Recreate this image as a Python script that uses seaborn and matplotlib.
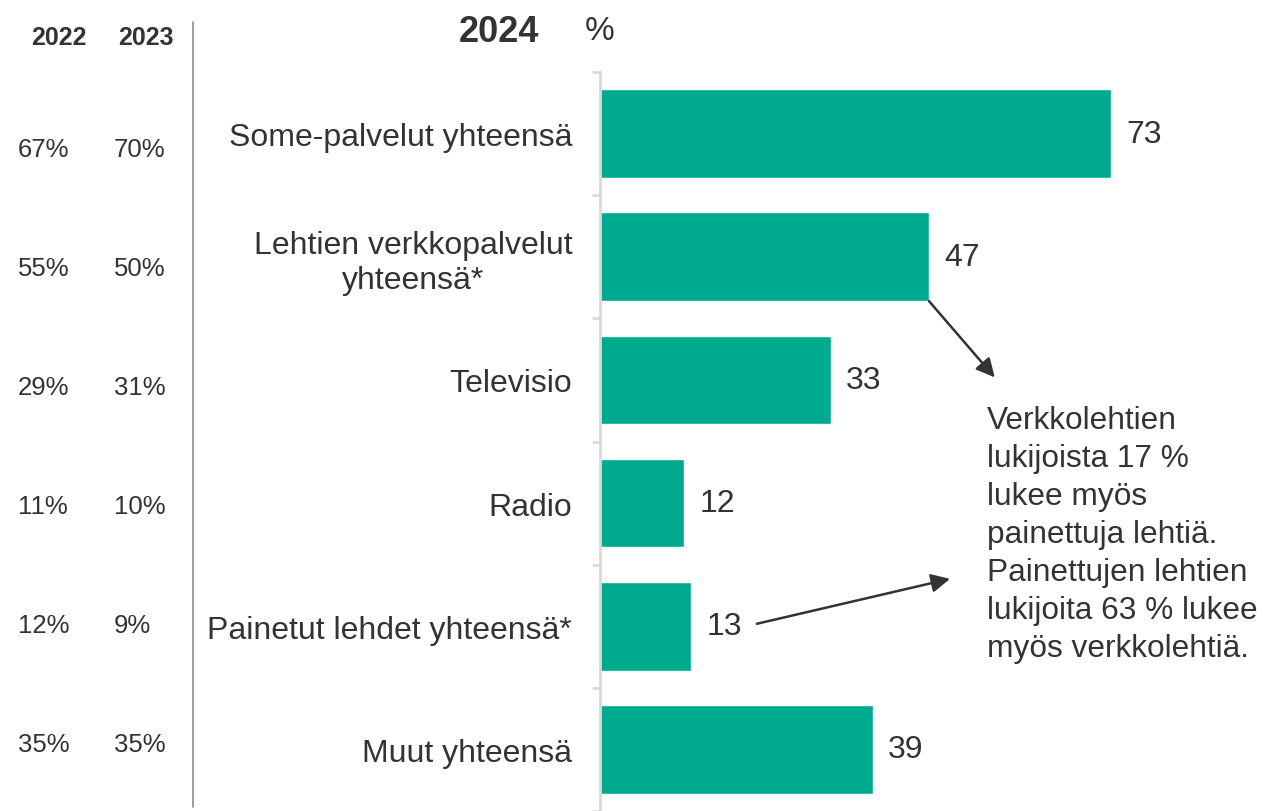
import matplotlib
matplotlib.use("Agg")
import matplotlib.pyplot as plt
import seaborn as sns
import pandas as pd

# ── Data ─────────────────────────────────────────────────────────────────────
categories = ["Some-palvelut yhteensä", "Lehtien verkkopalvelut\nyhteensä*", "Televisio",
              "Radio", "Painetut lehdet yhteensä*", "Muut yhteensä"]
values_2024 = [73, 47, 33, 12, 13, 39]
values_2022 = [67, 55, 29, 11, 12, 35]
values_2023 = [70, 50, 31, 10, 9, 35]
note_text = ("Verkkolehtien\nlukijoista 17 %\nlukee myös\npainettuja lehtiä.\n"
             "Painettujen lehtien\nlukijoita 63 % lukee\nmyös verkkolehtiä.")

# ── Style ────────────────────────────────────────────────────────────────────
sns.set_theme(style="white")
plt.rcParams["font.family"] = ["Liberation Sans", "DejaVu Sans"]
TXT = "#333333"
BAR = "#00AA8E"
GRID = "#d9d9d9"

W, H = 1263, 812
fig = plt.figure(figsize=(W / 100, H / 100), dpi=100)

# main axes: left edge x=600, top y=73, bottom at figure bottom
ax = fig.add_axes([600 / W, 0, 658 / W, (H - 73) / H])
df = pd.DataFrame({"cat": categories, "val": values_2024})
sns.barplot(data=df, x="val", y="cat", orient="h", color=BAR, width=0.72,
            saturation=1, ax=ax)
ax.set_xlim(0, 94)
ax.set_ylim(len(categories) - 0.5, -0.5)
ax.set_xlabel("")
ax.set_ylabel("")
ax.set_xticks([])
for s in ["top", "right", "bottom"]:
    ax.spines[s].set_visible(False)
ax.spines["left"].set_color(GRID)
ax.spines["left"].set_linewidth(2)
ax.set_yticks([i - 0.5 for i in range(len(categories) + 1)], minor=True)
ax.tick_params(axis="y", which="minor", left=True, length=6, width=2, color=GRID)
ax.tick_params(axis="y", which="major", left=False, length=0, pad=20,
               labelsize=23, labelcolor=TXT)
for lab in ax.get_yticklabels():
    lab.set_multialignment("center")
    lab.set_linespacing(1.2)

ax.bar_label(ax.containers[0], padding=11, fontsize=23, color=TXT)

# annotation arrows + note
arrow = dict(arrowstyle="-|>", mutation_scale=28, lw=1.8, color=TXT,
             shrinkA=0, shrinkB=0)
ax.annotate("", xy=(56.4, 1.98), xytext=(47, 1.36), arrowprops=arrow)
ax.annotate("", xy=(50, 3.615), xytext=(22.4, 3.98), arrowprops=arrow)
ax.text(55.3, 2.2, note_text, ha="left", va="top", fontsize=22.8, color=TXT,
        linespacing=1.35)

# ── Left table (2022 / 2023) ─────────────────────────────────────────────────
tab = fig.add_axes([0, (H - 804.5) / H, 193 / W, 714 / H])
tab.set_xlim(0, 193)
tab.set_ylim(len(categories) - 0.5, -0.5)
tab.axis("off")
for i, (a, b) in enumerate(zip(values_2022, values_2023)):
    tab.text(18, i, f"{a}%", ha="left", va="center", fontsize=18.5, color=TXT)
    tab.text(114, i, f"{b}%", ha="left", va="center", fontsize=18.5, color=TXT)

fig.text(59 / W, 1 - 38 / H, "2022", ha="center", va="center", fontsize=18,
         fontweight="bold", color=TXT)
fig.text(146 / W, 1 - 38 / H, "2023", ha="center", va="center", fontsize=18,
         fontweight="bold", color=TXT)
fig.text(499 / W, 1 - 32 / H, "2024", ha="center", va="center", fontsize=26,
         fontweight="bold", color=TXT)
fig.text(600 / W, 1 - 32 / H, "%", ha="center", va="center", fontsize=24,
         color=TXT)
fig.add_artist(plt.Line2D([193 / W, 193 / W], [1 - 23 / H, 1 - 808 / H],
                          color="#8f8f80", lw=1.2))

plt.savefig("out.png", dpi=100)
